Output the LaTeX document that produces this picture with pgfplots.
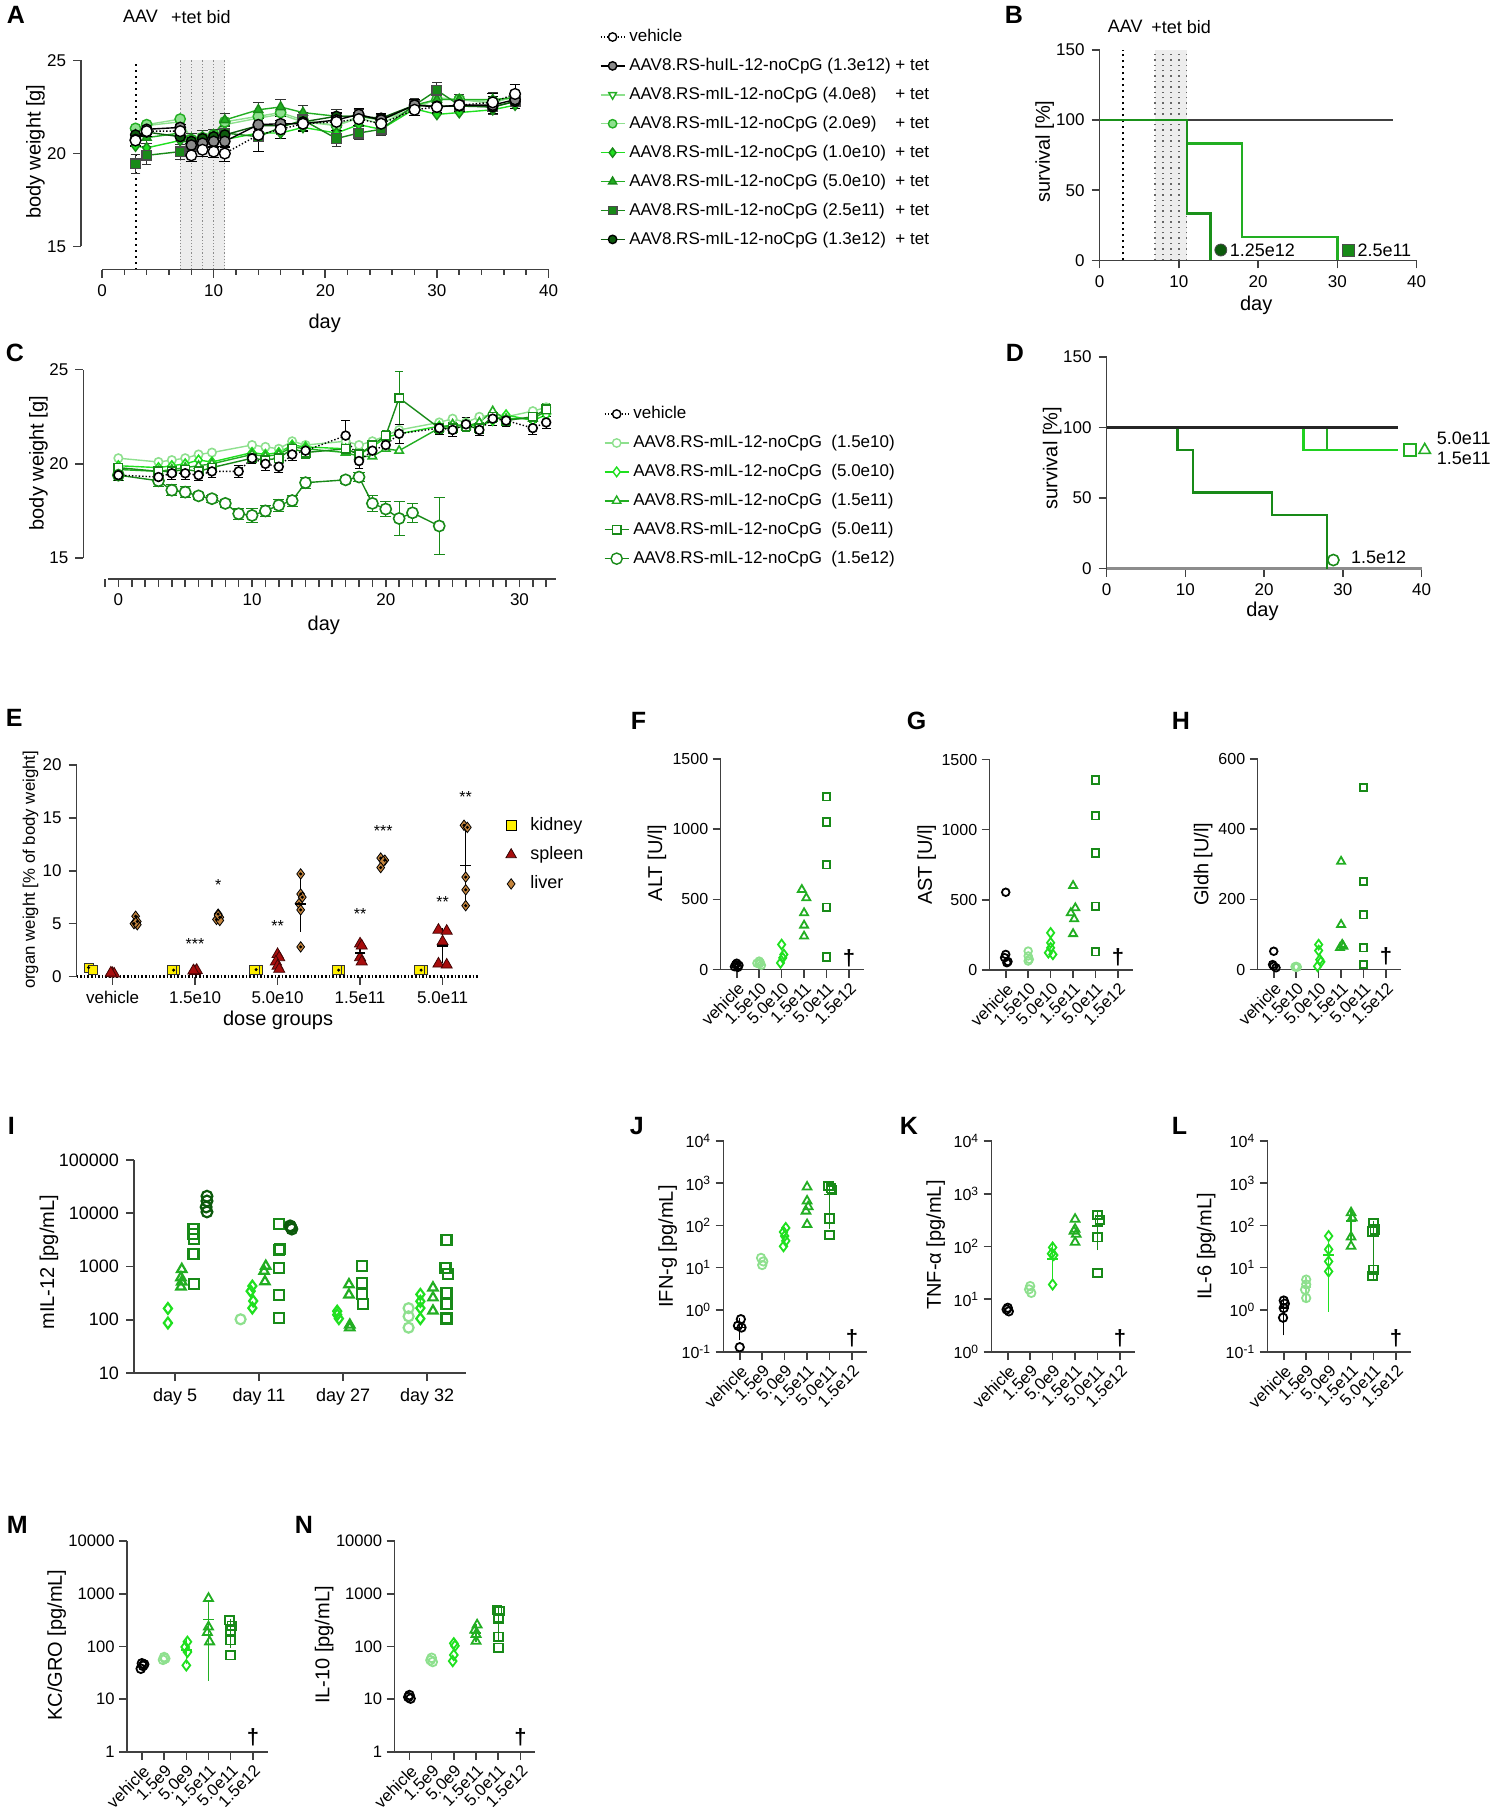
\documentclass[border=0pt]{standalone}
\usepackage{fontspec}
\setmainfont{Liberation Sans}
\usepackage{pgfplots}
\pgfplotsset{compat=1.18}
\definecolor{cGray}{HTML}{8A8A8A}
\definecolor{cLight}{HTML}{8EE08E}
\definecolor{cBright}{HTML}{1FE01F}
\definecolor{cMid}{HTML}{22AE22}
\definecolor{cDkB}{HTML}{188A18}
\definecolor{cDark}{HTML}{0C5A0C}
\definecolor{cKid}{HTML}{FFF000}
\definecolor{cSpl}{HTML}{A80D0D}
\definecolor{cLiv}{HTML}{C4843C}
\newlength\lgw
\newcommand\fs[1]{\fontsize{#1}{#1}\selectfont}
\pgfplotsset{
 gp/.style={scale only axis, clip=false, axis lines=left,
  axis line style={-, draw=black!75, line width=0.8pt},
  every tick/.style={draw=black!75, line width=0.8pt},
  tick align=outside, major tick length=4pt, minor tick length=2.5pt,
  tick label style={font=\fs{8.5}},
  label style={font=\fs{9}},
  /pgf/number format/assume math mode=true,
  /pgf/number format/1000 sep={},
  legend style={draw=none, fill=none, font=\fs{8.5}, anchor=north west, inner sep=0pt, row sep=2.8pt},
  legend cell align=left,
  legend image code/.code={\draw[mark repeat=2,mark phase=2] plot coordinates {(0pt,0pt)(6pt,0pt)(12pt,0pt)};},
 },
 xl/.style 2 args={every axis x label/.style={at={(axis description cs:#1,#2)}, anchor=center}},
 yl/.style 2 args={every axis y label/.style={at={(axis description cs:#1,#2)}, rotate=90, anchor=center}},
 cat/.style={gp, xmin=-0.72, xmax=5.65, xtick={0,...,5},
   xticklabel style={rotate=45, anchor=north east, inner sep=1.2pt, font=\fs{8.3}},
   yticklabel style={font=\fs{8}, inner sep=2pt}, label style={font=\fs{8.5}}},
 om/.style={only marks, mark size=#1, mark options={line width=0.9pt}},
 om/.default=1.9pt,
 mean/.style={only marks, mark=-, mark size=2.6pt, line width=0.8pt, #1,
   error bars/.cd, y dir=both, y explicit, error bar style={line width=0.7pt, #1}, error mark options={mark size=1.8pt, line width=0.7pt, #1}},
}
\begin{document}
\settowidth{\lgw}{\fs{8.5}AAV8.RS-huIL-12-noCpG (1.3e12)\ }
\begin{tikzpicture}
\useasboundingbox (0,0) rectangle (744pt,-909pt);
% ---------------- panel letters and texts
\foreach \L/\X/\Y in {A/0.5/3,B/499.5/3,C/0/172,D/500/172,E/0/354.5,F/312.5/356,G/450.5/356,H/583/356,I/1/558.5,J/312/558.5,K/447/558.5,L/583/558.5,M/0.5/758,N/144.5/758}
  \node[anchor=north west, inner sep=0pt, font=\fs{12.5}\bfseries] at (\X pt,-\Y pt) {\L};
\node[font=\fs{9}] at (67.5pt,-8.4pt) {AAV};
\node[font=\fs{9}] at (97.7pt,-8.4pt) {+tet bid};
\node[font=\fs{9}] at (559.8pt,-13.3pt) {AAV};
\node[font=\fs{9}] at (587.8pt,-13.3pt) {+tet bid};

% ---------------- A
\begin{axis}[gp, at={(37.8pt,-134.85pt)}, anchor=south west, width=233.7pt, height=104.6pt,
 xmin=-1.87, xmax=40, ymin=13.75, ymax=25, axis line style={draw=none},
 xtick={0,10,20,30,40}, minor xtick={2,4,6,8,12,14,16,18,22,24,26,28,32,34,36,38}, ytick={15,20,25},
 xlabel={day}, ylabel={body weight [g]}, xl={0.521}{-0.255}, yl={-0.0976}{0.564},
 legend style={at={(1.109,1.17)}}]
\addlegendimage{black, densely dotted, line width=0.7pt, mark=*, mark size=2.1pt, mark options={solid, fill=white, draw=black}}
\addlegendentry{vehicle}
\addlegendimage{black, line width=0.7pt, mark=*, mark size=2.1pt, mark options={fill=cGray, draw=black}}
\addlegendentry{\makebox[\lgw][l]{AAV8.RS-huIL-12-noCpG (1.3e12)}+ tet}
\addlegendimage{cLight, line width=0.7pt, mark=triangle*, mark size=2.2pt, mark options={rotate=180, fill=white, draw=cMid}}
\addlegendentry{\makebox[\lgw][l]{AAV8.RS-mIL-12-noCpG (4.0e8)}+ tet}
\addlegendimage{cLight, line width=0.7pt, mark=*, mark size=2.1pt, mark options={fill=cLight, draw=cMid}}
\addlegendentry{\makebox[\lgw][l]{AAV8.RS-mIL-12-noCpG (2.0e9)}+ tet}
\addlegendimage{cBright, line width=0.7pt, mark=diamond*, mark size=2.3pt, mark options={fill=cBright, draw=cDkB}}
\addlegendentry{\makebox[\lgw][l]{AAV8.RS-mIL-12-noCpG (1.0e10)}+ tet}
\addlegendimage{cMid, line width=0.7pt, mark=triangle*, mark size=2.3pt, mark options={fill=cMid, draw=cDkB}}
\addlegendentry{\makebox[\lgw][l]{AAV8.RS-mIL-12-noCpG (5.0e10)}+ tet}
\addlegendimage{cDkB, line width=0.7pt, mark=square*, mark size=2.1pt, mark options={fill=cDkB, draw=black!70}}
\addlegendentry{\makebox[\lgw][l]{AAV8.RS-mIL-12-noCpG (2.5e11)}+ tet}
\addlegendimage{cDark, line width=0.7pt, mark=*, mark size=2.1pt, mark options={fill=cDark, draw=black}}
\addlegendentry{\makebox[\lgw][l]{AAV8.RS-mIL-12-noCpG (1.3e12)}+ tet}
\fill[black!7] (axis cs:7,13.75) rectangle (axis cs:11,25);
\pgfplotsinvokeforeach{7,8,9,10,11}{\draw[black!45, densely dotted, line width=0.6pt] (axis cs:#1,13.75) -- (axis cs:#1,25);}
\draw[black, dotted, line width=1pt] (axis cs:3,13.75) -- (axis cs:3,25);
\draw[black!75, line width=0.8pt] (axis cs:-1.87,15) -- (axis cs:-1.87,25);
\draw[black!75, line width=0.8pt] (axis cs:0,13.75) -- (axis cs:40,13.75);
\addplot[forget plot, cLight, line width=0.7pt, mark=triangle*, mark size=2.4pt, mark options={rotate=180, fill=white, draw=cMid}] coordinates {(3,21.1)(4,21.5)(7,21.7)(8,20.75)(9,20.9)(10,21.0)(11,21.55)(14,21.9)(16,22.1)(18,21.7)(21,21.5)(23,22.0)(25,21.85)(28,22.35)(30,23.0)(32,22.9)(35,22.7)(37,23.1)};
\addplot[forget plot, cLight, line width=0.7pt, mark=*, mark size=2.6pt, mark options={fill=cLight, draw=cMid}] coordinates {(3,21.35)(4,21.55)(7,21.85)(8,20.75)(9,20.85)(10,21.0)(11,21.7)(14,22.0)(16,22.2)(18,21.8)(21,21.5)(23,21.9)(25,21.6)(28,22.5)(30,22.9)(32,22.9)(35,22.8)(37,23.0)};
\addplot[forget plot, cBright, line width=0.7pt, mark=diamond*, mark size=2.6pt, mark options={fill=cBright, draw=cDkB}] coordinates {(3,20.4)(4,20.3)(7,20.7)(8,20.55)(9,20.5)(10,20.55)(11,20.75)(14,21.1)(16,21.1)(18,21.4)(21,21.1)(23,21.55)(25,21.3)(28,22.4)(30,22.1)(32,22.2)(35,22.35)(37,22.6)};
\addplot[forget plot, cMid, line width=0.7pt, mark=triangle*, mark size=2.6pt, mark options={fill=cMid, draw=cDkB}, error bars/.cd, y dir=both, y explicit, error bar style={black!80, line width=0.5pt}] coordinates {(3,21.0)+-(0,0.3)(4,20.85)+-(0,0.3)(7,21.1)+-(0,0.3)(8,20.8)+-(0,0.3)(9,20.9)+-(0,0.35)(10,21.0)+-(0,0.3)(11,21.8)+-(0,0.35)(14,22.35)+-(0,0.4)(16,22.5)+-(0,0.4)(18,22.2)+-(0,0.4)(21,22.0)+-(0,0.35)(23,22.0)+-(0,0.35)(25,21.8)+-(0,0.3)(28,22.6)+-(0,0.3)(30,22.9)+-(0,0.35)(32,22.9)+-(0,0.3)(35,22.9)+-(0,0.4)(37,23.0)+-(0,0.4)};
\addplot[forget plot, cDkB, line width=0.7pt, mark=square*, mark size=2.4pt, mark options={fill=cDkB, draw=black!70}, error bars/.cd, y dir=both, y explicit, error bar style={black!80, line width=0.5pt}] coordinates {(3,19.45)+-(0,0.5)(4,19.9)+-(0,0.5)(7,20.1)+-(0,0.4)(8,20.4)+-(0,0.35)(9,20.55)+-(0,0.35)(10,20.75)+-(0,0.35)(11,21.1)+-(0,0.4)(14,20.9)+-(0,0.8)(16,21.4)+-(0,0.4)(18,21.8)+-(0,0.4)(21,20.8)+-(0,0.4)(23,21.1)+-(0,0.35)(25,21.3)+-(0,0.35)(28,22.6)+-(0,0.35)(30,23.4)+-(0,0.4)(32,22.6)+-(0,0.35)(35,22.5)+-(0,0.4)(37,22.8)+-(0,0.4)};
\addplot[forget plot, cDark, line width=0.7pt, mark=*, mark size=2.5pt, mark options={fill=cDark, draw=black}] coordinates {(3,21.0)(4,21.15)(7,20.9)(8,20.65)(9,20.8)(10,20.9)(11,21.0)(14,21.5)(16,21.5)(18,21.7)(21,22.0)(23,22.0)(25,21.9)(28,22.6)(30,22.55)(32,22.55)(35,22.5)(37,22.8)};
\addplot[forget plot, black, line width=0.7pt, mark=*, mark size=2.6pt, mark options={fill=cGray, draw=black}, error bars/.cd, y dir=both, y explicit, error bar style={black, line width=0.5pt}] coordinates {(3,20.75)+-(0,0.3)(4,21.3)+-(0,0.3)(7,21.4)+-(0,0.3)(8,20.45)+-(0,0.3)(9,20.55)+-(0,0.35)(10,20.65)+-(0,0.3)(11,20.65)+-(0,0.35)(14,21.55)+-(0,0.5)(16,21.6)+-(0,0.4)(18,21.6)+-(0,0.35)(21,21.8)+-(0,0.4)(23,22.1)+-(0,0.35)(25,21.8)+-(0,0.35)(28,22.6)+-(0,0.3)(30,22.5)+-(0,0.3)(32,22.6)+-(0,0.3)(35,22.6)+-(0,0.45)(37,22.9)+-(0,0.45)};
\addplot[forget plot, black, densely dotted, line width=0.7pt, mark=*, mark size=2.7pt, mark options={solid, fill=white, draw=black}, error bars/.cd, y dir=both, y explicit, error bar style={solid, black, line width=0.5pt}] coordinates {(3,20.7)+-(0,0.3)(4,21.2)+-(0,0.3)(7,21.2)+-(0,0.35)(8,19.9)+-(0,0.3)(9,20.2)+-(0,0.35)(10,20.1)+-(0,0.3)(11,20.0)+-(0,0.4)(14,21.0)+-(0,0.9)(16,21.3)+-(0,0.5)(18,21.6)+-(0,0.4)(21,21.7)+-(0,0.45)(23,21.85)+-(0,0.35)(25,21.6)+-(0,0.4)(28,22.35)+-(0,0.3)(30,22.5)+-(0,0.35)(32,22.6)+-(0,0.35)(35,22.75)+-(0,0.5)(37,23.2)+-(0,0.5)};
\end{axis}

% ---------------- B
\begin{axis}[gp, at={(547pt,-130.2pt)}, anchor=south west, width=158.5pt, height=105.2pt,
 xmin=0, xmax=40, ymin=0, ymax=150, xtick={0,10,20,30,40}, ytick={0,50,100,150},
 xlabel={day}, ylabel={survival [\%]}, xl={0.494}{-0.212}, yl={-0.173}{0.517}]
\fill[black!7] (axis cs:7,0) rectangle (axis cs:11,150);
\pgfplotsinvokeforeach{7,8,9,10,11}{\draw[black!60, dotted, line width=0.7pt] (axis cs:#1,0) -- (axis cs:#1,150);}
\draw[black, dotted, line width=1pt] (axis cs:3,0) -- (axis cs:3,150);
\addplot[black!75, line width=1.2pt, const plot] coordinates {(0,100)(37,100)};
\addplot[cMid, line width=1.2pt, const plot] coordinates {(0,100)(11,83.3)(18,16.7)(30,0)};
\addplot[cDkB!80!cMid, line width=1.2pt, const plot] coordinates {(0,100)(11,33.3)(14,0)};
\addplot[only marks, mark=*, mark size=3pt, mark options={fill=cDark, draw=black!70}] coordinates {(15.3,7.4)};
\addplot[only marks, mark=square*, mark size=3pt, mark options={fill=cDkB, draw=black!70}] coordinates {(31.4,7.4)};
\node[anchor=west, font=\fs{9}, inner sep=0pt] at (axis cs:16.4,7.4) {1.25e12};
\node[anchor=west, font=\fs{9}, inner sep=0pt] at (axis cs:32.5,7.4) {2.5e11};
\end{axis}

% ---------------- C
\begin{axis}[gp, at={(38.95pt,-289.5pt)}, anchor=south west, width=236.05pt, height=104.65pt,
 xmin=-2.61, xmax=32.7, ymin=13.885, ymax=25, axis line style={draw=none},
 xtick={0,10,20,30}, minor xtick={-1,1,2,...,9,11,12,...,19,21,22,...,29,31,32}, minor tick length=4pt, ytick={15,20,25},
 xlabel={day}, ylabel={body weight [g]}, xl={0.509}{-0.22}, yl={-0.0955}{0.554},
 legend style={at={(1.1017,0.8457)}}]
\addlegendimage{black, densely dotted, line width=0.7pt, mark=*, mark size=2.1pt, mark options={solid, fill=white, draw=black}}
\addlegendentry{vehicle}
\addlegendimage{cLight, line width=0.7pt, mark=*, mark size=2.1pt, mark options={fill=white, draw=cLight}}
\addlegendentry{AAV8.RS-mIL-12-noCpG\ \ (1.5e10)}
\addlegendimage{cBright, line width=0.7pt, mark=diamond*, mark size=2.4pt, mark options={fill=white, draw=cBright}}
\addlegendentry{AAV8.RS-mIL-12-noCpG\ \ (5.0e10)}
\addlegendimage{cMid, line width=0.7pt, mark=triangle*, mark size=2.4pt, mark options={fill=white, draw=cMid}}
\addlegendentry{AAV8.RS-mIL-12-noCpG\ \ (1.5e11)}
\addlegendimage{cDkB, line width=0.7pt, mark=square*, mark size=2.1pt, mark options={fill=white, draw=cDkB}}
\addlegendentry{AAV8.RS-mIL-12-noCpG\ \ (5.0e11)}
\addlegendimage{cDkB, line width=0.7pt, mark=*, mark size=2.8pt, mark options={fill=white, draw=cDkB}}
\addlegendentry{AAV8.RS-mIL-12-noCpG\ \ (1.5e12)}
\draw[black!75, line width=0.8pt] (axis cs:-2.61,15) -- (axis cs:-2.61,25);
\draw[black!75, line width=1.2pt] (axis cs:-0.8,13.885) -- (axis cs:32.7,13.885);
\addplot[forget plot, cLight, line width=0.7pt, mark=*, mark size=2.1pt, mark options={fill=white, draw=cLight, line width=0.8pt}] coordinates {(0,20.3)(3,20.1)(4,20.2)(5,20.3)(6,20.5)(7,20.6)(10,21.0)(11,20.9)(12,20.8)(13,21.2)(14,21.0)(17,21.2)(18,21.0)(19,21.2)(20,21.5)(21,21.8)(24,22.2)(25,22.4)(26,22.2)(27,22.5)(28,22.6)(29,22.5)(31,22.8)(32,23.0)};
\addplot[forget plot, cBright, line width=0.7pt, mark=diamond*, mark size=2.4pt, mark options={fill=white, draw=cBright, line width=0.8pt}] coordinates {(0,19.9)(3,19.8)(4,19.9)(5,20.0)(6,20.2)(7,20.1)(10,20.6)(11,20.5)(12,20.6)(13,21.0)(14,20.9)(17,20.8)(18,20.5)(19,20.9)(20,21.4)(21,21.6)(24,22.0)(25,22.0)(26,22.1)(27,22.0)(28,22.3)(29,22.6)(31,22.3)(32,22.6)};
\addplot[forget plot, cMid, line width=0.7pt, mark=triangle*, mark size=2.4pt, mark options={fill=white, draw=cMid, line width=0.8pt}] coordinates {(0,19.7)(3,19.6)(4,19.7)(5,19.8)(6,19.9)(7,20.0)(10,20.5)(11,20.4)(12,20.5)(13,20.9)(14,20.8)(17,20.6)(18,20.4)(19,20.4)(20,20.8)(21,20.7)(24,21.9)(25,22.1)(26,22.0)(27,22.2)(28,22.8)(29,22.4)(31,22.4)(32,22.8)};
\addplot[forget plot, cDkB, line width=0.7pt, mark=square*, mark size=2.1pt, mark options={fill=white, draw=cDkB, line width=0.8pt}, error bars/.cd, y dir=both, y explicit, error bar style={cDkB, line width=0.5pt}] coordinates {(0,19.8)+-(0,0.2)(3,19.6)+-(0,0.2)(4,19.6)+-(0,0.2)(5,19.7)+-(0,0.2)(6,19.6)+-(0,0.2)(7,19.8)+-(0,0.2)(10,20.3)+-(0,0.3)(11,20.2)+-(0,0.3)(12,20.3)+-(0,0.3)(13,20.8)+-(0,0.3)(14,20.6)+-(0,0.3)(17,20.8)+-(0,0.3)(18,20.5)+-(0,0.3)(19,21.0)+-(0,0.3)(20,21.5)+-(0,0.3)(21,23.5)+-(0,1.4)(24,21.9)+-(0,0.3)(25,21.9)+-(0,0.3)(26,22.0)+-(0,0.3)(27,21.9)+-(0,0.3)(28,22.5)+-(0,0.3)(29,22.3)+-(0,0.3)(31,22.5)+-(0,0.3)(32,22.9)+-(0,0.3)};
\addplot[forget plot, cDkB, line width=0.7pt, mark=*, mark size=2.8pt, mark options={fill=white, draw=cDkB, line width=0.8pt}, error bars/.cd, y dir=both, y explicit, error bar style={cDkB, line width=0.6pt}] coordinates {(0,19.4)+-(0,0.3)(3,19.1)+-(0,0.3)(4,18.6)+-(0,0.3)(5,18.5)+-(0,0.3)(6,18.3)+-(0,0.2)(7,18.15)+-(0,0.2)(8,17.9)+-(0,0.2)(9,17.35)+-(0,0.3)(10,17.26)+-(0,0.35)(11,17.5)+-(0,0.3)(12,17.8)+-(0,0.3)(13,18.05)+-(0,0.3)(14,19.0)+-(0,0.3)(17,19.15)+-(0,0.2)(18,19.3)+-(0,0.25)(19,17.9)+-(0,0.4)(20,17.6)+-(0,0.4)(21,17.1)+-(0,0.9)(22,17.4)+-(0,0.5)(24,16.7)+-(0,1.5)};
\addplot[forget plot, black, densely dotted, line width=0.7pt, mark=*, mark size=2.2pt, mark options={solid, fill=white, draw=black, line width=0.8pt}, error bars/.cd, y dir=both, y explicit, error bar style={solid, black, line width=0.5pt}] coordinates {(0,19.4)+-(0,0.3)(3,19.3)+-(0,0.3)(4,19.5)+-(0,0.3)(5,19.5)+-(0,0.3)(6,19.4)+-(0,0.3)(7,19.6)+-(0,0.3)(9,19.6)+-(0,0.3)(10,20.3)+-(0,0.3)(11,20.0)+-(0,0.35)(12,19.85)+-(0,0.3)(13,20.5)+-(0,0.3)(14,20.7)+-(0,0.3)(17,21.5)+-(0,0.8)(18,20.15)+-(0,0.4)(19,20.7)+-(0,0.35)(20,21.0)+-(0,0.35)(21,21.6)+-(0,0.5)(24,21.9)+-(0,0.35)(25,21.8)+-(0,0.35)(26,22.1)+-(0,0.35)(27,21.8)+-(0,0.3)(28,22.4)+-(0,0.35)(29,22.3)+-(0,0.3)(31,21.9)+-(0,0.35)(32,22.2)+-(0,0.3)};
\end{axis}

% ---------------- D
\begin{axis}[gp, at={(550.5pt,-284.25pt)}, anchor=south west, width=157.5pt, height=105.75pt,
 xmin=0, xmax=40, ymin=0, ymax=150, xtick={0,10,20,30,40}, ytick={0,50,100,150},
 x axis line style={draw=black!45, line width=1.6pt},
 xlabel={day}, ylabel={survival [\%]}, xl={0.495}{-0.204}, yl={-0.173}{0.522}]
\addplot[cMid, line width=1.1pt, const plot] coordinates {(0,100)(28,84)(37,84)};
\addplot[cBright!70!cMid, line width=1.1pt, const plot] coordinates {(0,100)(25,84)(37,84)};
\addplot[cDkB, line width=1.3pt, const plot] coordinates {(0,100)(9,84)(11,54)(21,38)(28,0)};
\addplot[black!85, line width=1.4pt, const plot] coordinates {(0,100)(37,100)};
\addplot[only marks, mark=square, mark size=3pt, cMid, mark options={line width=0.8pt}] coordinates {(38.5,84)};
\addplot[only marks, mark=triangle, mark size=3.3pt, cMid, mark options={line width=0.8pt}] coordinates {(40.4,84)};
\addplot[only marks, mark=o, mark size=2.8pt, cDkB, mark options={line width=0.8pt}] coordinates {(28.8,6)};
\node[anchor=west, font=\fs{9}, inner sep=0pt] at (axis cs:41.9,92.6) {5.0e11};
\node[anchor=west, font=\fs{9}, inner sep=0pt] at (axis cs:41.9,78.4) {1.5e11};
\node[anchor=west, font=\fs{9}, inner sep=0pt] at (axis cs:31,8.2) {1.5e12};
\end{axis}

% ---------------- E
\begin{axis}[gp, at={(35.5pt,-488.25pt)}, anchor=south west, width=201.5pt, height=105.75pt,
 xmin=-0.436, xmax=4.448, ymin=0, ymax=20, xtick={0,...,4}, xticklabels={vehicle,1.5e10,5.0e10,1.5e11,5.0e11}, ytick={0,5,10,15,20},
 x axis line style={draw=black, densely dotted, line width=1.1pt},
 xlabel={dose groups}, ylabel={organ weight [\% of body weight]}, xl={0.5}{-0.206}, yl={-0.114}{0.504},
 ylabel style={font=\fs{8.4}},
 legend style={at={(1.0645,0.773)}, row sep=2.6pt, font=\fs{9}}]
\addlegendimage{only marks, mark=square*, mark size=2.4pt, mark options={fill=cKid, draw=black}}
\addlegendentry{\hspace{5pt}kidney}
\addlegendimage{only marks, mark=triangle*, mark size=3pt, mark options={fill=cSpl, draw=black!70!cSpl}}
\addlegendentry{\hspace{5pt}spleen}
\addlegendimage{only marks, mark=diamond*, mark size=2.6pt, mark options={fill=cLiv, draw=black}}
\addlegendentry{\hspace{5pt}liver}
\addplot[forget plot, only marks, mark=square*, mark size=2.3pt, mark options={fill=cKid, draw=black!80}] coordinates {(-0.29,0.85)(-0.24,0.6)(0.74,0.6)(0.76,0.6)(0.72,0.6)(1.74,0.65)(1.76,0.65)(1.72,0.65)(2.74,0.6)(2.76,0.6)(2.72,0.6)(3.74,0.6)(3.76,0.6)(3.72,0.6)};
\addplot[forget plot, only marks, mark=*, mark size=0.55pt, black] coordinates {(-0.29,0.85)(0.74,0.6)(1.74,0.65)(2.74,0.6)(3.74,0.6)};
\addplot[forget plot, only marks, mark=triangle*, mark size=3.2pt, mark options={fill=cSpl, draw=black!60!cSpl}] coordinates {(0,0.3)(0.02,0.25)(-0.02,0.35)(1,0.5)(1.02,0.6)(0.98,0.55)(2,2.1)(2.02,1.8)(1.98,1.4)(2,1.0)(2.02,0.7)(3,3.1)(3.02,2.9)(3,1.8)(3.02,1.4)(3.95,4.4)(4.05,4.3)(4,3.3)(3.95,1.2)(4.05,1.1)};
\addplot[forget plot, only marks, mark=diamond*, mark size=2.6pt, mark options={fill=cLiv, draw=black}] coordinates {(0.28,5.7)(0.3,5.2)(0.26,5.0)(0.3,4.9)(0.28,5.1)(1.28,5.9)(1.3,5.6)(1.26,5.4)(1.3,5.3)(1.28,5.8)(2.28,9.7)(2.28,7.8)(2.3,7.5)(2.26,6.9)(2.28,6.3)(2.28,2.8)(3.25,11.2)(3.3,11.0)(3.28,10.9)(3.25,10.3)(4.26,14.3)(4.3,14.1)(4.28,9.4)(4.28,8.2)(4.28,6.7)};
\addplot[forget plot, only marks, mark=*, mark size=0.55pt, black] coordinates {(0.28,5.7)(0.3,5.2)(0.26,5.0)(1.28,5.9)(1.3,5.6)(1.26,5.4)(2.28,9.7)(2.28,7.8)(2.3,7.5)(2.26,6.9)(2.28,6.3)(2.28,2.8)(3.25,11.2)(3.3,11.0)(3.25,10.3)(4.26,14.3)(4.3,14.1)(4.28,9.4)(4.28,8.2)(4.28,6.7)};
\addplot[forget plot, mean=black] coordinates {(2.28,6.85) +- (0,2.3)};
\addplot[forget plot, mean=black] coordinates {(4.28,10.5) +- (0,3.7)};
\addplot[forget plot, mean=black] coordinates {(3,2.2) +- (0,0.8)};
\addplot[forget plot, mean=black] coordinates {(4,2.9) +- (0,1.3)};
\node[font=\fs{8}] at (axis cs:1,3.1) {***};
\node[font=\fs{8}] at (axis cs:1.28,8.7) {*};
\node[font=\fs{8}] at (axis cs:2,4.8) {**};
\node[font=\fs{8}] at (axis cs:3,5.9) {**};
\node[font=\fs{8}] at (axis cs:3.28,13.8) {***};
\node[font=\fs{8}] at (axis cs:4,7.0) {**};
\node[font=\fs{8}] at (axis cs:4.28,17.0) {**};
\end{axis}

% ---------------- F
\begin{axis}[cat, at={(357.5pt,-484.75pt)}, anchor=south west, width=71.5pt, height=105.25pt,
 ymin=0, ymax=1500, ytick={0,500,1000,1500}, xticklabels={vehicle,1.5e10,5.0e10,1.5e11,5.0e11,1.5e12},
 ylabel={ALT [U/l]}, yl={-0.445}{0.506}]
\addplot[om, mark=o, black] coordinates {(0,45)(0.1,30)(-0.1,20)(0.05,15)(-0.05,35)};
\addplot[om, mark=o, cLight] coordinates {(1,60)(0.9,45)(1.1,30)(1,40)(1.05,50)};
\addplot[om=2.4pt, mark=diamond, cBright] coordinates {(2,178)(2.1,107)(2.05,83)(1.95,47)};
\addplot[om=2.3pt, mark=triangle, cMid] coordinates {(2.9,569)(3.1,510)(3,403)(3,315)(3,237)};
\addplot[om, mark=square, cDkB] coordinates {(4,1232)(4,1050)(4,747)(4,443)(4,88)};
\node[font=\fs{11}\bfseries] at (axis cs:5,83) {\textdagger};
\end{axis}

% ---------------- G
\begin{axis}[cat, at={(492pt,-485pt)}, anchor=south west, width=71.5pt, height=105.25pt,
 ymin=0, ymax=1500, ytick={0,500,1000,1500}, xticklabels={vehicle,1.5e10,5.0e10,1.5e11,5.0e11,1.5e12},
 ylabel={AST [U/l]}, yl={-0.44}{0.5}]
\addplot[om, mark=o, black] coordinates {(0,554)(0,111)(-0.05,88)(0.05,52)(0.1,60)};
\addplot[om, mark=o, cLight] coordinates {(1,135)(1,100)(1,64)(1.05,76)};
\addplot[om=2.4pt, mark=diamond, cBright] coordinates {(2,265)(2,194)(2,158)(1.9,123)(2.1,111)};
\addplot[om=2.3pt, mark=triangle, cMid] coordinates {(3,601)(2.9,407)(3.1,442)(3.05,364)(3,258)};
\addplot[om, mark=square, cDkB] coordinates {(4,1353)(4,1100)(4,833)(4,454)(4,130)};
\node[font=\fs{11}\bfseries] at (axis cs:5,88) {\textdagger};
\end{axis}

% ---------------- H
\begin{axis}[cat, at={(626pt,-484.75pt)}, anchor=south west, width=71.5pt, height=105.25pt,
 ymin=0, ymax=600, ytick={0,200,400,600}, xticklabels={vehicle,1.5e10,5.0e10,1.5e11,5.0e11,1.5e12},
 ylabel={Gldh [U/l]}, yl={-0.38}{0.5}]
\addplot[om, mark=o, black] coordinates {(0,52)(0,9.5)(0.1,5)(-0.05,14)};
\addplot[om, mark=o, cLight] coordinates {(1,9)(0.95,8)(1.05,7)(1,6)};
\addplot[om=2.4pt, mark=diamond, cBright] coordinates {(2,71)(2,54)(2.05,28)(2.1,22)(1.95,9)};
\addplot[om=2.3pt, mark=triangle, cMid] coordinates {(3,308)(3,128)(3.05,71)(2.95,62)(3.1,66)};
\addplot[om, mark=square, cDkB] coordinates {(4,519)(4,251)(4,156)(4,62)(4,14)};
\node[font=\fs{11}\bfseries] at (axis cs:5,38) {\textdagger};
\end{axis}

% ---------------- I
\begin{axis}[gp, ymode=log, yminorticks=false, at={(64.25pt,-686.5pt)}, anchor=south west, width=166pt, height=106.5pt,
 xmin=-0.488, xmax=3.464, ymin=10, ymax=100000, ytick={10,100,1000,10000,100000}, yticklabels={10,100,1000,10000,100000},
 xtick={0,1,2,3}, xticklabels={day 5,day 11,day 27,day 32}, tick label style={font=\fs{9}},
 ylabel={mIL-12 [pg/mL]}, yl={-0.256}{0.52}]
\addplot[om=2.5pt, mark=o, cLight, mark options={line width=1.1pt}] coordinates {(0.78,102)(2.78,165)(2.78,116)(2.78,71)};
\addplot[om=2.7pt, mark=diamond, cBright, mark options={line width=1.1pt}] coordinates {(-0.085,163)(-0.085,87)(0.92,430)(0.90,345)(0.93,225)(0.92,166)(1.93,145)(1.93,124)(1.95,105)(2.92,300)(2.92,222)(2.92,166)(2.92,105)};
\addplot[om=2.7pt, mark=triangle, cMid, mark options={line width=1.1pt}] coordinates {(0.08,890)(0.07,620)(0.08,517)(0.07,415)(1.08,1020)(1.06,820)(1.07,520)(2.07,460)(2.07,295)(2.08,80)(2.08,71)(3.07,400)(3.07,260)(3.07,147)};
\addplot[om=2.5pt, mark=square, cDkB, mark options={line width=1.1pt}] coordinates {(0.22,5000)(0.22,4070)(0.23,3300)(0.22,1740)(0.23,470)(1.24,6300)(1.24,2050)(1.25,2100)(1.24,950)(1.24,290)(1.24,107)(2.23,1020)(2.23,490)(2.23,303)(2.24,200)(3.23,3150)(3.22,930)(3.25,714)(3.23,317)(3.23,200)(3.23,106)};
\addplot[om=2.7pt, mark=o, cDark, mark options={line width=1.1pt}] coordinates {(0.38,20900)(0.38,17000)(0.37,13100)(0.38,10600)(1.38,5480)(1.39,5050)(1.37,5800)};
\end{axis}

% ---------------- J
\begin{axis}[cat, ymode=log, yminorticks=false, at={(359pt,-676pt)}, anchor=south west, width=71.5pt, height=105.5pt,
 ymin=0.1, ymax=10000, ytick={0.1,1,10,100,1000,10000},
 yticklabels={10\textsuperscript{-1},10\textsuperscript{0},10\textsuperscript{1},10\textsuperscript{2},10\textsuperscript{3},10\textsuperscript{4}},
 xticklabels={vehicle,1.5e9,5.0e9,1.5e11,5.0e11,1.5e12},
 ylabel={IFN-g [pg/mL]}, yl={-0.39}{0.5}]
\addplot[om=2.1pt, mark=o, black] coordinates {(0.05,0.6)(-0.08,0.42)(0.08,0.38)(0,0.13)};
\addplot[mean=black] coordinates {(0,0.38) += (0,0.15) -= (0,0.15)};
\addplot[om=2.1pt, mark=o, cLight] coordinates {(0.95,17)(1.05,14)(1,11.5)};
\addplot[om=2.5pt, mark=diamond, cBright] coordinates {(2.05,87)(1.95,70)(2,56)(2.05,43)(1.95,32)};
\addplot[om=2.5pt, mark=triangle, cMid] coordinates {(3,815)(3,380)(3.05,278)(2.95,218)(3,105)};
\addplot[om=2.1pt, mark=square, cDkB] coordinates {(3.95,850)(4.05,755)(4.1,690)(4,146)(4,59)};
\addplot[mean=cDkB] coordinates {(4,540) += (0,300) -= (0,440)};
\node[font=\fs{11}\bfseries] at (axis cs:5,0.215) {\textdagger};
\end{axis}

% ---------------- K
\begin{axis}[cat, ymode=log, yminorticks=false, at={(493pt,-676pt)}, anchor=south west, width=71.5pt, height=105.5pt,
 ymin=1, ymax=10000, ytick={1,10,100,1000,10000},
 yticklabels={10\textsuperscript{0},10\textsuperscript{1},10\textsuperscript{2},10\textsuperscript{3},10\textsuperscript{4}},
 xticklabels={vehicle,1.5e9,5.0e9,1.5e11,5.0e11,1.5e12},
 ylabel={TNF-α [pg/mL]}, yl={-0.39}{0.507}]
\addplot[om=2.1pt, mark=o, black] coordinates {(0,6.9)(0.05,5.9)(-0.05,6.4)};
\addplot[om=2.1pt, mark=o, cLight] coordinates {(1,17.8)(0.95,15.4)(1.05,13.2)};
\addplot[om=2.5pt, mark=diamond, cBright] coordinates {(2,96)(1.95,73)(2.05,69)(2,19)};
\addplot[mean=cBright] coordinates {(2,58) += (0,40) -= (0,32)};
\addplot[om=2.5pt, mark=triangle, cMid] coordinates {(3,330)(3,213)(2.95,195)(3.05,171)(3,120)};
\addplot[om=2.1pt, mark=square, cDkB] coordinates {(4,397)(4.1,316)(4,149)(4,31.6)};
\addplot[mean=cDkB] coordinates {(4,246) += (0,150) -= (0,146)};
\node[font=\fs{11}\bfseries] at (axis cs:5,1.85) {\textdagger};
\end{axis}

% ---------------- L
\begin{axis}[cat, ymode=log, yminorticks=false, at={(631pt,-676pt)}, anchor=south west, width=71.5pt, height=105.5pt,
 ymin=0.1, ymax=10000, ytick={0.1,1,10,100,1000,10000},
 yticklabels={10\textsuperscript{-1},10\textsuperscript{0},10\textsuperscript{1},10\textsuperscript{2},10\textsuperscript{3},10\textsuperscript{4}},
 xticklabels={vehicle,1.5e9,5.0e9,1.5e11,5.0e11,1.5e12},
 ylabel={IL-6 [pg/mL]}, yl={-0.43}{0.5}]
\addplot[om=2.1pt, mark=o, black] coordinates {(0,1.66)(0.05,1.4)(0,1.1)(-0.03,0.65)};
\addplot[mean=black] coordinates {(0,1.1) += (0,0.6) -= (0,0.8)};
\addplot[om=2.1pt, mark=o, cLight] coordinates {(1,5.2)(1,4.0)(0.95,3.0)(1,1.9)};
\addplot[mean=cLight] coordinates {(1,3.5) += (0,1.5) -= (0,1.5)};
\addplot[om=2.5pt, mark=diamond, cBright] coordinates {(2,56)(2,27)(2,14)(2,8.1)};
\addplot[mean=cBright] coordinates {(2,19.6) += (0,20) -= (0,18.5)};
\addplot[om=2.5pt, mark=triangle, cMid] coordinates {(3,200)(3.05,151)(3,53)(3,32)};
\addplot[mean=cMid] coordinates {(3,126) += (0,80) -= (0,80)};
\addplot[om=2.1pt, mark=square, cDkB] coordinates {(4,115)(4.05,80)(3.95,72)(4,8.9)(3.95,6.3)};
\addplot[mean=cDkB] coordinates {(4,56) += (0,50) -= (0,50)};
\node[font=\fs{11}\bfseries] at (axis cs:5,0.215) {\textdagger};
\end{axis}

% ---------------- M
\begin{axis}[cat, ymode=log, yminorticks=false, at={(60.75pt,-876pt)}, anchor=south west, width=70.35pt, height=105.5pt,
 xmin=-0.67, xmax=5.67, ymin=1, ymax=10000, ytick={1,10,100,1000,10000}, yticklabels={1,10,100,1000,10000},
 yticklabel style={font=\fs{8.3}},
 xticklabels={vehicle,1.5e9,5.0e9,1.5e11,5.0e11,1.5e12}, label style={font=\fs{9}},
 ylabel={KC/GRO [pg/mL]}, yl={-0.5}{0.507}]
\addplot[om=2.2pt, mark=o, black] coordinates {(0,48)(0.05,43)(-0.05,38)(0.1,46)};
\addplot[om=2.2pt, mark=o, cLight] coordinates {(1,63)(1.05,59)(0.95,56)};
\addplot[om=2.6pt, mark=diamond, cBright] coordinates {(2.05,123)(1.95,98)(2.05,79)(2,44)};
\addplot[mean=cBright] coordinates {(2,85) += (0,35) -= (0,30)};
\addplot[om=2.6pt, mark=triangle, cMid] coordinates {(3,815)(3,235)(2.95,185)(3.05,123)};
\addplot[mean=cMid] coordinates {(3,323) += (0,290) -= (0,297)};
\addplot[om=2.2pt, mark=square, cDkB] coordinates {(3.95,316)(4.05,245)(4,205)(4,132)(4,69)};
\addplot[mean=cDkB] coordinates {(4,200) += (0,90) -= (0,90)};
\node[font=\fs{11}\bfseries] at (axis cs:5,1.93) {\textdagger};
\end{axis}

% ---------------- N
\begin{axis}[cat, ymode=log, yminorticks=false, at={(194.5pt,-876pt)}, anchor=south west, width=70.35pt, height=105.5pt,
 xmin=-0.67, xmax=5.67, ymin=1, ymax=10000, ytick={1,10,100,1000,10000}, yticklabels={1,10,100,1000,10000},
 yticklabel style={font=\fs{8.3}},
 xticklabels={vehicle,1.5e9,5.0e9,1.5e11,5.0e11,1.5e12}, label style={font=\fs{9}},
 ylabel={IL-10 [pg/mL]}, yl={-0.5}{0.507}]
\addplot[om=2.2pt, mark=o, black] coordinates {(0,12)(0.05,10.3)(-0.05,11)};
\addplot[om=2.2pt, mark=o, cLight] coordinates {(1,61)(0.95,55)(1.05,51)};
\addplot[om=2.6pt, mark=diamond, cBright] coordinates {(2,115)(2.05,103)(2,69)(1.95,53)};
\addplot[om=2.6pt, mark=triangle, cMid] coordinates {(3.05,256)(2.95,205)(3,170)(3,126)};
\addplot[mean=cMid] coordinates {(3,180) += (0,50) -= (0,40)};
\addplot[om=2.2pt, mark=square, cDkB] coordinates {(3.95,490)(4.05,470)(4,340)(4,152)(4,94)};
\addplot[mean=cDkB] coordinates {(4,300) += (0,150) -= (0,150)};
\node[font=\fs{11}\bfseries] at (axis cs:5,1.93) {\textdagger};
\end{axis}
\end{tikzpicture}
\end{document}
